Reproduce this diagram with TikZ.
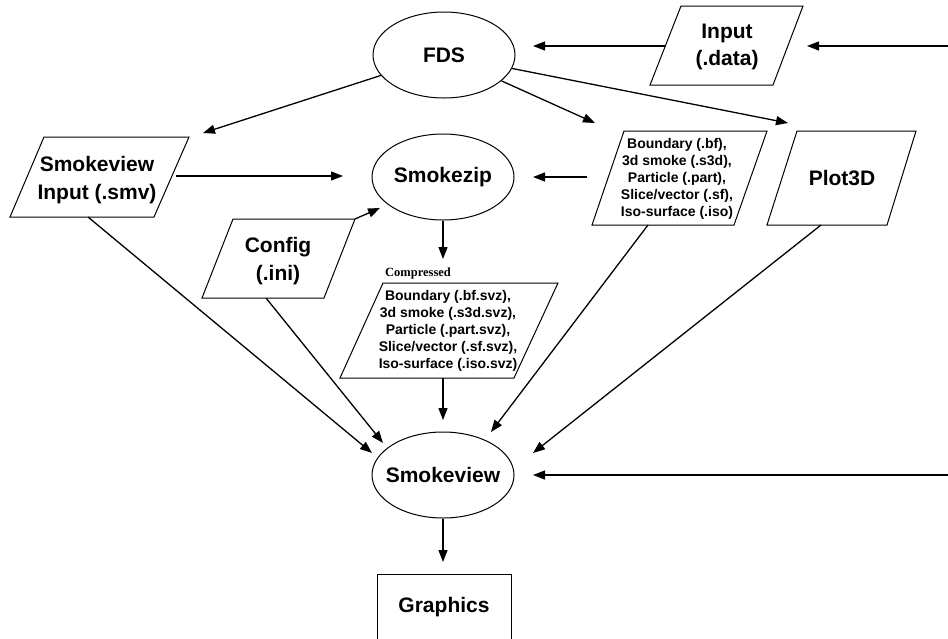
\documentclass[tikz,border=0pt]{standalone}
\usepackage{fontspec}
\setmainfont{Liberation Sans}
\newfontfamily\timesbf{Liberation Serif}
\usetikzlibrary{arrows.meta,shapes.geometric}
\begin{document}
\begin{tikzpicture}[x=1pt,y=-1pt,
  arr/.style={line width=1.3pt,-{Triangle[length=12pt,width=9pt]}},
  ell/.style={ellipse,draw,line width=1pt,minimum width=142pt,minimum height=86pt,inner sep=0pt},
  elltext/.style={font=\bfseries\fontsize{21}{24}\selectfont,inner sep=0pt},
  para/.style={draw,line width=1pt},
  big/.style={font=\bfseries\fontsize{21}{27.5}\selectfont,align=center,inner sep=0pt},
  small/.style={font=\bfseries\fontsize{14}{17}\selectfont,align=center,inner sep=0pt}]
\useasboundingbox (0,0) rectangle (948,638);
\clip (0,0) rectangle (948,638);
% ellipses
\node[ell,label={[elltext]center:FDS}] (fds) at (444,55) {};
\node[ell,label={[elltext]center:Smokezip}] (zip) at (443,177) {};
\node[ell,label={[elltext]center:Smokeview}] (sv) at (443,475) {};
% parallelograms
\draw[para] (681,6) -- (803,6) -- (773,85) -- (650,85) -- cycle;
\node[big] (input) at (727,47) {Input\\(.data)};
\draw[para] (44,137) -- (189,137) -- (154,217) -- (10,217) -- cycle;
\node[big] (smv) at (97,180) {Smokeview\\Input (.smv)};
\draw[para] (624,131) -- (767,131) -- (734,225) -- (592,225) -- cycle;
\node[small] (bnd) at (677,179) {Boundary (.bf),\\3d smoke (.s3d),\\Particle (.part),\\Slice/vector (.sf),\\Iso-surface (.iso)};
\draw[para] (797,131) -- (916,131) -- (887,225) -- (767,225) -- cycle;
\node[big] (p3d) at (842,178) {Plot3D};
\draw[para] (233,219) -- (355,219) -- (324,298) -- (202,298) -- cycle;
\node[big] (cfg) at (278,261) {Config\\(.ini)};
\draw[para] (383,283) -- (558,283) -- (514,378) -- (340,378) -- cycle;
\node[small] (cmp) at (448,331) {Boundary (.bf.svz),\\3d smoke (.s3d.svz),\\Particle (.part.svz),\\Slice/vector (.sf.svz),\\Iso-surface (.iso.svz)};
\node[font=\timesbf\bfseries\fontsize{12.5}{14}\selectfont,inner sep=0pt] (cmplab) at (418,273) {Compressed};
% graphics box
\draw[para] (377,645) -- (377,574) -- (511,574) -- (511,645);
\node[big] (gfx) at (444,607) {Graphics};
% coordinates
\coordinate (inR) at (948,46);
\coordinate (inTip) at (807,46);
\coordinate (inL) at (666,46);
\coordinate (fdsTip) at (533,46);
\coordinate (smvTip) at (203,133);
\coordinate (bndTip) at (595,123);
\coordinate (p3dTip) at (788,123);
\coordinate (smvR) at (176,176);
\coordinate (zipTipL) at (343,176);
\coordinate (bndL) at (587,177);
\coordinate (zipTipR) at (533,177);
\coordinate (cfgTR) at (355,219);
\coordinate (zipTipC) at (380,208);
\coordinate (cmpTip) at (443,259);
\coordinate (cmpB) at (443,378);
\coordinate (svTipT) at (443,420);
\coordinate (gfxTip) at (443,562);
\coordinate (smvB) at (88,217);
\coordinate (svTip1) at (372,453);
\coordinate (cfgB) at (266,298);
\coordinate (svTip2) at (383,443);
\coordinate (bndB) at (648,225);
\coordinate (svTip3) at (491,432);
\coordinate (p3dB) at (821,225);
\coordinate (svTip4) at (533,453);
\coordinate (svR) at (948,475);
\coordinate (svTip5) at (533,475);
% connectors
\draw[arr] (inR) -- (inTip);
\draw[arr] (inL) -- (fdsTip);
\draw[arr] (fds) -- (smvTip);
\draw[arr] (fds) -- (bndTip);
\draw[arr] (fds) -- (p3dTip);
\draw[arr] (smvR) -- (zipTipL);
\draw[arr] (bndL) -- (zipTipR);
\draw[arr] (cfgTR) -- (zipTipC);
\draw[arr] (zip.south) -- (cmpTip);
\draw[arr] (cmpB) -- (svTipT);
\draw[arr] (sv.south) -- (gfxTip);
\draw[arr] (smvB) -- (svTip1);
\draw[arr] (cfgB) -- (svTip2);
\draw[arr] (bndB) -- (svTip3);
\draw[arr] (p3dB) -- (svTip4);
\draw[arr] (svR) -- (svTip5);
\end{tikzpicture}
\end{document}
